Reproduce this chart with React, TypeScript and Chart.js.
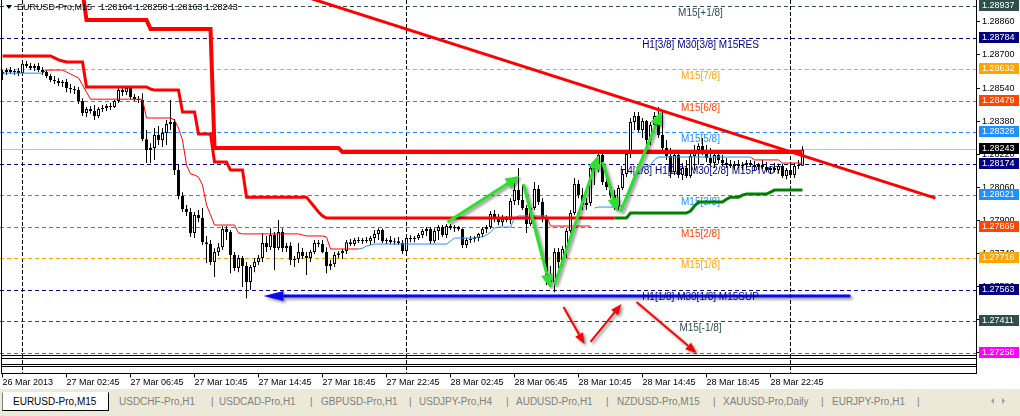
import React, { useEffect, useRef } from 'react';
import { Chart, registerables } from 'chart.js';

Chart.register(...registerables);

const FONT = "'Liberation Sans', Arial, Helvetica, sans-serif";

const symbol = 'EURUSD-Pro,M15';

// 15-minute bars, oldest first (bar 0 = 26 Mar 22:45)
const opens = [
  1.28608, 1.28617, 1.28627, 1.28617, 1.28622, 1.28612, 1.28657, 1.28647, 1.28637, 1.28647,
  1.28627, 1.28617, 1.28598, 1.28579, 1.28574, 1.28564, 1.28569, 1.2854, 1.28535, 1.2853,
  1.28477, 1.28419, 1.28439, 1.28429, 1.28405, 1.28439, 1.28443, 1.28453, 1.28448, 1.28477,
  1.2853, 1.2852, 1.2854, 1.28496, 1.28486, 1.28482, 1.28292, 1.2824, 1.2825, 1.28313,
  1.28288, 1.28322, 1.28366, 1.28375, 1.28143, 1.28017, 1.27954, 1.2794, 1.27838, 1.27926,
  1.27911, 1.27794, 1.27785, 1.27698, 1.27746, 1.2777, 1.27858, 1.27843, 1.27732, 1.27669,
  1.27717, 1.27679, 1.27601, 1.27674, 1.27698, 1.27717, 1.2779, 1.2777, 1.27829, 1.27766,
  1.27843, 1.27766, 1.27775, 1.27708, 1.27712, 1.27746, 1.27727, 1.27717, 1.27746, 1.2779,
  1.27785, 1.27746, 1.27679, 1.27688, 1.27732, 1.27741, 1.27751, 1.27794, 1.27785, 1.27804,
  1.27799, 1.27804, 1.27799, 1.27814, 1.27833, 1.27853, 1.27799, 1.27804, 1.27794, 1.27799,
  1.2779, 1.27751, 1.27814, 1.27809, 1.27814, 1.27829, 1.27848, 1.27858, 1.27799, 1.27848,
  1.27867, 1.27829, 1.27872, 1.27862, 1.27867, 1.27858, 1.2778, 1.27804, 1.27809, 1.27814,
  1.27833, 1.27858, 1.27867, 1.2793, 1.27911, 1.27891, 1.27906, 1.27901, 1.27993, 1.28046,
  1.27998, 1.27959, 1.27882, 1.27959, 1.28051, 1.27988, 1.27906, 1.27611, 1.27601, 1.27746,
  1.27698, 1.27761, 1.27848, 1.27935, 1.28075, 1.28022, 1.27974, 1.27983, 1.28153, 1.28172,
  1.28216, 1.28085, 1.28061, 1.28022, 1.27964, 1.28056, 1.28124, 1.28221, 1.28375, 1.28405,
  1.28337, 1.2838, 1.28288, 1.28361, 1.28405, 1.28313, 1.2825, 1.28211, 1.28133, 1.28216,
  1.28119, 1.28153, 1.28114, 1.28211, 1.2824, 1.28259, 1.2823, 1.28201, 1.28177, 1.28216,
  1.28192, 1.28177, 1.28168, 1.28163, 1.28173, 1.28163, 1.28168, 1.28177, 1.28168, 1.28158,
  1.28168, 1.28158, 1.28143, 1.28153, 1.28143, 1.28163, 1.28114, 1.28143, 1.28119, 1.28163,
  1.28164,
];

const highs = [
  1.28627, 1.28637, 1.28642, 1.28632, 1.28637, 1.28666, 1.28671, 1.28661, 1.28657, 1.28661,
  1.28642, 1.28627, 1.28608, 1.28598, 1.28589, 1.28579, 1.28584, 1.2856, 1.2855, 1.28545,
  1.28491, 1.28448, 1.28453, 1.28458, 1.28448, 1.28458, 1.28463, 1.28467, 1.28482, 1.2854,
  1.2855, 1.2855, 1.28545, 1.28511, 1.28501, 1.28515, 1.28337, 1.28273, 1.28346, 1.28356,
  1.28346, 1.28385, 1.28482, 1.2839, 1.28168, 1.28036, 1.27974, 1.27959, 1.2794, 1.2795,
  1.27959, 1.27824, 1.27804, 1.27765, 1.2779, 1.27872, 1.27872, 1.27853, 1.27746, 1.27732,
  1.27727, 1.27698, 1.27684, 1.27717, 1.27732, 1.27838, 1.27824, 1.27862, 1.27843, 1.27901,
  1.27862, 1.2779, 1.27794, 1.27727, 1.2779, 1.27766, 1.27746, 1.27756, 1.27804, 1.27804,
  1.27804, 1.2777, 1.27708, 1.27746, 1.27751, 1.27761, 1.27804, 1.27809, 1.27814, 1.27819,
  1.27814, 1.27819, 1.27824, 1.27853, 1.27862, 1.27862, 1.27814, 1.27824, 1.27814, 1.27819,
  1.27804, 1.27829, 1.27829, 1.27824, 1.27838, 1.27858, 1.27867, 1.27867, 1.27862, 1.27877,
  1.27877, 1.27882, 1.27882, 1.27877, 1.27872, 1.27862, 1.27814, 1.27824, 1.27824, 1.27838,
  1.27867, 1.27877, 1.27945, 1.2795, 1.2793, 1.27926, 1.27921, 1.28007, 1.28085, 1.28153,
  1.28071, 1.27974, 1.27969, 1.28085, 1.28071, 1.28007, 1.27926, 1.27679, 1.27765, 1.27766,
  1.27775, 1.27862, 1.2795, 1.28104, 1.28095, 1.28056, 1.28007, 1.28168, 1.28192, 1.2824,
  1.2823, 1.28114, 1.28076, 1.28046, 1.28071, 1.28143, 1.2824, 1.28395, 1.28424, 1.28424,
  1.28395, 1.28385, 1.28375, 1.28424, 1.28448, 1.28424, 1.28288, 1.2825, 1.2824, 1.2823,
  1.28177, 1.28192, 1.2824, 1.28264, 1.28273, 1.28298, 1.28264, 1.2825, 1.2824, 1.2824,
  1.28216, 1.28201, 1.28192, 1.28187, 1.28192, 1.28182, 1.28192, 1.28192, 1.28187, 1.28177,
  1.28192, 1.28182, 1.28163, 1.28177, 1.28173, 1.28173, 1.28153, 1.28163, 1.28177, 1.28192,
  1.28258,
];

const lows = [
  1.28579, 1.28603, 1.28608, 1.28603, 1.28598, 1.28603, 1.28637, 1.28627, 1.28622, 1.28617,
  1.28603, 1.28589, 1.28569, 1.2856, 1.2855, 1.28545, 1.2852, 1.28515, 1.28511, 1.28463,
  1.28405, 1.284, 1.28415, 1.28385, 1.28395, 1.28424, 1.28429, 1.28434, 1.28443, 1.28467,
  1.28501, 1.28506, 1.28486, 1.28477, 1.28467, 1.28283, 1.28177, 1.28177, 1.28192, 1.28264,
  1.28254, 1.28264, 1.28337, 1.28119, 1.28002, 1.2794, 1.27921, 1.27819, 1.27814, 1.27891,
  1.2778, 1.27693, 1.27684, 1.27625, 1.27727, 1.27756, 1.27804, 1.27644, 1.27654, 1.27649,
  1.27577, 1.27523, 1.27562, 1.27649, 1.27684, 1.27698, 1.27746, 1.27756, 1.27659, 1.27756,
  1.27746, 1.27746, 1.27684, 1.27674, 1.27693, 1.27712, 1.27635, 1.27698, 1.27737, 1.2777,
  1.27741, 1.27644, 1.27659, 1.27674, 1.27717, 1.27712, 1.27737, 1.27775, 1.27775, 1.2779,
  1.27785, 1.2779, 1.2778, 1.2779, 1.27804, 1.2779, 1.27785, 1.27785, 1.2778, 1.2778,
  1.27737, 1.27737, 1.27794, 1.27794, 1.27804, 1.27814, 1.27824, 1.27785, 1.2779, 1.27804,
  1.27819, 1.27814, 1.27853, 1.27843, 1.27848, 1.27766, 1.27766, 1.2779, 1.27794, 1.27799,
  1.27819, 1.27838, 1.27858, 1.27891, 1.27877, 1.27872, 1.27891, 1.27882, 1.27974, 1.27974,
  1.2795, 1.27838, 1.27872, 1.2795, 1.27974, 1.27891, 1.27587, 1.27577, 1.27552, 1.27669,
  1.27679, 1.27717, 1.27838, 1.27926, 1.28007, 1.2795, 1.2795, 1.27969, 1.28071, 1.28133,
  1.28071, 1.28046, 1.28007, 1.2795, 1.2795, 1.28046, 1.28109, 1.28201, 1.28337, 1.28327,
  1.28298, 1.28264, 1.28264, 1.28346, 1.28298, 1.2823, 1.28192, 1.28104, 1.28119, 1.28104,
  1.28095, 1.28104, 1.28104, 1.28143, 1.28168, 1.28216, 1.28182, 1.28163, 1.28153, 1.28173,
  1.28163, 1.28153, 1.28153, 1.28143, 1.28153, 1.28143, 1.28153, 1.28158, 1.28143, 1.28143,
  1.28148, 1.28133, 1.28124, 1.28133, 1.28128, 1.28104, 1.28099, 1.28109, 1.28104, 1.28148,
  1.28163,
];

const closes = [
  1.28617, 1.28627, 1.28617, 1.28622, 1.28612, 1.28657, 1.28647, 1.28637, 1.28647, 1.28627,
  1.28617, 1.28598, 1.28579, 1.28574, 1.28564, 1.28569, 1.2854, 1.28535, 1.2853, 1.28477,
  1.28419, 1.28439, 1.28429, 1.28405, 1.28439, 1.28443, 1.28453, 1.28448, 1.28477, 1.2853,
  1.2852, 1.2854, 1.28496, 1.28486, 1.28482, 1.28292, 1.2824, 1.2825, 1.28313, 1.28288,
  1.28322, 1.28366, 1.28375, 1.28143, 1.28017, 1.27954, 1.2794, 1.27838, 1.27926, 1.27911,
  1.27794, 1.27785, 1.27698, 1.27746, 1.2777, 1.27858, 1.27843, 1.27732, 1.27669, 1.27717,
  1.27679, 1.27601, 1.27674, 1.27698, 1.27717, 1.2779, 1.2777, 1.27829, 1.27766, 1.27843,
  1.27766, 1.27775, 1.27708, 1.27712, 1.27746, 1.27727, 1.27717, 1.27746, 1.2779, 1.27785,
  1.27746, 1.27679, 1.27688, 1.27732, 1.27741, 1.27751, 1.27794, 1.27785, 1.27804, 1.27799,
  1.27804, 1.27799, 1.27814, 1.27833, 1.27853, 1.27799, 1.27804, 1.27794, 1.27799, 1.2779,
  1.27751, 1.27814, 1.27809, 1.27814, 1.27829, 1.27848, 1.27858, 1.27799, 1.27848, 1.27867,
  1.27829, 1.27872, 1.27862, 1.27867, 1.27858, 1.2778, 1.27804, 1.27809, 1.27814, 1.27833,
  1.27858, 1.27867, 1.2793, 1.27911, 1.27891, 1.27906, 1.27901, 1.27993, 1.28046, 1.27998,
  1.27959, 1.27882, 1.27959, 1.28051, 1.27988, 1.27906, 1.27611, 1.27601, 1.27746, 1.27698,
  1.27761, 1.27848, 1.27935, 1.28075, 1.28022, 1.27974, 1.27983, 1.28153, 1.28172, 1.28216,
  1.28085, 1.28061, 1.28022, 1.27964, 1.28056, 1.28124, 1.28221, 1.28375, 1.28405, 1.28337,
  1.2838, 1.28288, 1.28361, 1.28405, 1.28313, 1.2825, 1.28211, 1.28133, 1.28216, 1.28119,
  1.28153, 1.28114, 1.28211, 1.2824, 1.28259, 1.2823, 1.28201, 1.28177, 1.28216, 1.28192,
  1.28177, 1.28168, 1.28163, 1.28173, 1.28163, 1.28168, 1.28177, 1.28168, 1.28158, 1.28168,
  1.28158, 1.28143, 1.28153, 1.28143, 1.28163, 1.28114, 1.28143, 1.28119, 1.28163, 1.28163,
  1.28243,
];

// time axis
const xTickBars = [0, 16, 32, 48, 64, 80, 96, 112, 128, 144, 160, 176, 192];
const xTickLabels = [
  '26 Mar 2013', '27 Mar 02:45', '27 Mar 06:45', '27 Mar 10:45', '27 Mar 14:45',
  '27 Mar 18:45', '27 Mar 22:45', '28 Mar 02:45', '28 Mar 06:45', '28 Mar 10:45',
  '28 Mar 14:45', '28 Mar 18:45', '28 Mar 22:45',
];
const dayStartBars = [5, 101, 197];

// price axis
const yTickValues = [1.2886, 1.287, 1.2854, 1.2838, 1.2822, 1.2806, 1.279, 1.2774, 1.2758, 1.2742, 1.2726];

// Murrey math levels
const murreyPrices = [1.28937, 1.28784, 1.28632, 1.28479, 1.28326, 1.28174, 1.28021, 1.27869, 1.27716, 1.27563, 1.27411, 1.27258];
const murreyNames = [
  'M15[+1/8]', 'H1[3/8] M30[3/8] M15RES', 'M15[7/8]', 'M15[6/8]', 'M15[5/8]',
  'H4[1/8] H1[2/8] M30[2/8] M15PIVOT', 'M15[3/8]', 'M15[2/8]', 'M15[1/8]',
  'H1[1/8] M30[1/8] M15SUP', 'M15[-1/8]', 'M15[-2/8]',
];
const murreyColors = ['#2F4F4F', '#000080', '#FFA500', '#FF4500', '#1E90FF', '#000080', '#1E90FF', '#FF4500', '#FFA500', '#000080', '#2F4F4F', '#FF00FF'];
const murreyLabelBar = 174.5;

// trailing stop lines: vertices [bar, price]
const upperStop: [number, number][] = [
  [0, 1.2901], [20, 1.2901], [21, 1.28869], [36, 1.28869], [37, 1.28826], [52, 1.28826],
  [53, 1.2825], [84, 1.2825], [85, 1.2823], [200, 1.2823],
];
const slowStopDown: [number, number][] = [
  [0, 1.28695], [12, 1.28695], [13, 1.28686], [14, 1.28676], [15, 1.28671], [16, 1.28666], [20, 1.28666],
  [21, 1.28545], [36, 1.28545], [37, 1.28535], [38, 1.2853], [44, 1.2853], [45, 1.28424], [48, 1.28424],
  [49, 1.28318], [52, 1.28318], [53, 1.28182], [56, 1.28182], [57, 1.28143], [60, 1.28143],
  [61, 1.28012], [76, 1.28012], [77, 1.27988], [78, 1.27964], [79, 1.2794], [80, 1.27921],
  [81, 1.27911], [153, 1.27911],
];
const slowStopUp: [number, number][] = [
  [153, 1.27911], [156, 1.27911], [157, 1.27935], [171, 1.27935], [172, 1.27945], [173, 1.27969],
  [174, 1.27988], [180, 1.27988], [181, 1.28002], [182, 1.28012], [184, 1.28012], [185, 1.28022],
  [186, 1.28027], [191, 1.28027], [192, 1.28036], [193, 1.28046], [200, 1.28046],
];
const fastStopUp: [number, number][][] = [
  [[0, 1.28612], [10, 1.28612]],
  [[89, 1.27761], [90, 1.27765], [91, 1.27775], [92, 1.2778], [93, 1.27785], [111, 1.27785], [112, 1.27799],
   [113, 1.27814], [118, 1.27814], [119, 1.27819], [120, 1.27819], [121, 1.27829], [122, 1.27843],
   [123, 1.27862], [124, 1.27867], [127, 1.27867], [128, 1.27911], [129, 1.27921], [136, 1.27921]],
  [[148, 1.27959], [149, 1.27964], [154, 1.27964], [155, 1.27974], [156, 1.27998], [157, 1.28046],
   [158, 1.28095], [159, 1.28133], [160, 1.28153], [161, 1.28163], [162, 1.28168], [163, 1.28192],
   [164, 1.28206], [187, 1.28206]],
];
const fastStopDown: [number, number][][] = [
  [[10, 1.28612], [11, 1.28627], [15, 1.28627], [16, 1.28617], [17, 1.28608], [18, 1.28598], [19, 1.28589],
   [20, 1.28555], [21, 1.2852], [22, 1.28486], [35, 1.28486], [36, 1.28395], [42, 1.28395], [43, 1.28385],
   [44, 1.28346], [45, 1.28288], [46, 1.28168], [47, 1.28124], [48, 1.28119], [49, 1.28109], [50, 1.28071],
   [51, 1.27974], [52, 1.27926], [53, 1.27877], [58, 1.27877], [59, 1.27838], [60, 1.27834], [74, 1.27834],
   [75, 1.27829], [76, 1.27824], [80, 1.27824], [81, 1.27819], [82, 1.27761], [89, 1.27761]],
  [[136, 1.27921], [137, 1.27872], [147, 1.27872]],
  [[187, 1.28206], [188, 1.28192], [194, 1.28192], [195, 1.28177], [200, 1.28177]],
];

// drawn objects: [bar, price] start and end
const trendLine: [number, number][] = [[70, 1.29017], [233.25, 1.28007]];
const supportArrow: [number, number][] = [[212, 1.27533], [65.25, 1.27533]];
const swingArrows: [number, number, number, number][] = [
  [111.25, 1.27891, 129.25, 1.28114],
  [130.25, 1.28075, 137, 1.27572],
  [138, 1.27587, 149, 1.28216],
  [150, 1.28182, 153.75, 1.2794],
  [154.5, 1.2794, 164.75, 1.28429],
];
const projectionArrows: [number, number, number, number][] = [
  [140.25, 1.2748, 145.5, 1.27301],
  [147, 1.27311, 154.75, 1.27495],
  [158.5, 1.27504, 173.5, 1.27258],
];

const tabNames = [
  'EURUSD-Pro,M15', 'USDCHF-Pro,H1', 'USDCAD-Pro,H1', 'GBPUSD-Pro,H1', 'USDJPY-Pro,H4',
  'AUDUSD-Pro,H1', 'NZDUSD-Pro,M15', 'XAUUSD-Pro,Daily', 'EURJPY-Pro,H1',
];
const tabLefts = [119, 219, 321, 419, 516, 617, 723, 832];
const sepLefts = [211, 310, 409, 506, 606, 713, 821, 917];

function drawArrow(
  ctx: CanvasRenderingContext2D, x1: number, y1: number, x2: number, y2: number,
  color: string, width: number, head: number, half: number,
) {
  const a = Math.atan2(y2 - y1, x2 - x1);
  const bx = x2 - head * Math.cos(a);
  const by = y2 - head * Math.sin(a);
  ctx.strokeStyle = color;
  ctx.fillStyle = color;
  ctx.lineWidth = width;
  ctx.lineCap = 'butt';
  ctx.beginPath();
  ctx.moveTo(x1, y1);
  ctx.lineTo(bx, by);
  ctx.stroke();
  ctx.beginPath();
  ctx.moveTo(x2, y2);
  ctx.lineTo(bx + half * Math.sin(a), by - half * Math.cos(a));
  ctx.lineTo(bx - half * Math.sin(a), by + half * Math.cos(a));
  ctx.closePath();
  ctx.fill();
}

const AXIS_BOTTOM = 373.5;

const terminalDecor = {
  id: 'terminalDecor',
  beforeDatasetsDraw(chart: any) {
    const { ctx, chartArea: a } = chart;
    const xs = chart.scales.x;
    const ys = chart.scales.y;
    const last = closes.length - 1;

    // day separators
    ctx.save();
    ctx.strokeStyle = '#000';
    ctx.lineWidth = 1;
    ctx.setLineDash([4, 2]);
    dayStartBars.forEach((b) => {
      const px = Math.floor(xs.getPixelForValue(b)) + 0.5;
      ctx.beginPath();
      ctx.moveTo(px, 0);
      ctx.lineTo(px, AXIS_BOTTOM);
      ctx.stroke();
    });
    ctx.restore();

    ctx.save();
    ctx.beginPath();
    ctx.rect(a.left, a.top, a.right - a.left, a.bottom - a.top);
    ctx.clip();

    // bid line
    const by = Math.round(ys.getPixelForValue(closes[last])) + 0.5;
    ctx.strokeStyle = '#C0C0C0';
    ctx.lineWidth = 1;
    ctx.beginPath();
    ctx.moveTo(a.left, by);
    ctx.lineTo(a.right, by);
    ctx.stroke();

    // Murrey levels
    ctx.setLineDash([4, 3]);
    murreyPrices.forEach((p, k) => {
      const yy = Math.round(ys.getPixelForValue(p)) + 0.5;
      ctx.strokeStyle = murreyColors[k];
      ctx.beginPath();
      ctx.moveTo(a.left, yy);
      ctx.lineTo(a.right, yy);
      ctx.stroke();
    });
    ctx.setLineDash([]);

    // support arrow
    ctx.shadowColor = 'rgba(0,0,0,0.45)';
    ctx.shadowBlur = 3;
    ctx.shadowOffsetX = 2;
    ctx.shadowOffsetY = 2;
    drawArrow(
      ctx,
      xs.getPixelForValue(supportArrow[0][0]), ys.getPixelForValue(supportArrow[0][1]),
      xs.getPixelForValue(supportArrow[1][0]), ys.getPixelForValue(supportArrow[1][1]),
      '#0A0AF0', 3, 20, 5,
    );
    ctx.shadowColor = 'transparent';

    // level labels
    ctx.font = `10px ${FONT}`;
    ctx.textAlign = 'center';
    ctx.textBaseline = 'alphabetic';
    const lx = xs.getPixelForValue(murreyLabelBar);
    murreyPrices.forEach((p, k) => {
      const yy = Math.round(ys.getPixelForValue(p));
      ctx.fillStyle = murreyColors[k];
      ctx.fillText(murreyNames[k], lx, yy + 10);
    });
    ctx.restore();
  },
  afterDatasetsDraw(chart: any) {
    const { ctx, chartArea: a } = chart;
    const xs = chart.scales.x;
    const ys = chart.scales.y;
    const last = closes.length - 1;

    ctx.save();
    ctx.beginPath();
    ctx.rect(a.left, a.top, a.right - a.left, a.bottom - a.top);
    ctx.clip();

    // trend line
    ctx.strokeStyle = '#FF0000';
    ctx.lineWidth = 3;
    ctx.beginPath();
    ctx.moveTo(xs.getPixelForValue(trendLine[0][0]), ys.getPixelForValue(trendLine[0][1]));
    ctx.lineTo(xs.getPixelForValue(trendLine[1][0]), ys.getPixelForValue(trendLine[1][1]));
    ctx.stroke();

    ctx.shadowColor = 'rgba(0,0,0,0.45)';
    ctx.shadowBlur = 3;
    ctx.shadowOffsetX = 2;
    ctx.shadowOffsetY = 2;
    swingArrows.forEach(([b1, p1, b2, p2]) => {
      drawArrow(ctx, xs.getPixelForValue(b1), ys.getPixelForValue(p1),
        xs.getPixelForValue(b2), ys.getPixelForValue(p2), '#2EE02E', 3, 14, 6);
    });
    projectionArrows.forEach(([b1, p1, b2, p2]) => {
      drawArrow(ctx, xs.getPixelForValue(b1), ys.getPixelForValue(p1),
        xs.getPixelForValue(b2), ys.getPixelForValue(p2), '#FF0000', 2, 11, 4.5);
    });
    ctx.restore();

    // header
    ctx.save();
    ctx.fillStyle = '#000';
    ctx.beginPath();
    ctx.moveTo(6, 5);
    ctx.lineTo(12, 5);
    ctx.lineTo(9, 9);
    ctx.closePath();
    ctx.fill();
    ctx.font = `9px ${FONT}`;
    ctx.textAlign = 'left';
    ctx.textBaseline = 'alphabetic';
    ctx.fillText(symbol, 17, 10);
    ctx.fillText([opens[last], highs[last], lows[last], closes[last]].map((v) => v.toFixed(5)).join(' '), 100, 10);
    ctx.restore();
  },
  afterDraw(chart: any) {
    const { ctx, chartArea: a } = chart;
    const xs = chart.scales.x;
    const ys = chart.scales.y;
    const last = closes.length - 1;
    const right = Math.round(a.right) + 0.5;

    ctx.save();
    ctx.strokeStyle = '#000';
    ctx.lineWidth = 1;
    ctx.setLineDash([]);
    ctx.beginPath();
    // window frame
    ctx.moveTo(1.5, 0);
    ctx.lineTo(1.5, AXIS_BOTTOM);
    ctx.moveTo(1.5, 355.5);
    ctx.lineTo(right, 355.5);
    ctx.moveTo(right, 0);
    ctx.lineTo(right, AXIS_BOTTOM);
    ctx.stroke();
    ctx.strokeRect(1.5, 358.5, right - 1.5, 6);
    ctx.strokeRect(1.5, 366.5, right - 1.5, 7);
    // time ticks
    ctx.beginPath();
    xTickBars.forEach((b) => {
      const px = Math.floor(xs.getPixelForValue(b)) + 0.5;
      ctx.moveTo(px, AXIS_BOTTOM);
      ctx.lineTo(px, AXIS_BOTTOM + 4);
    });
    ctx.stroke();

    // price tags
    ctx.font = `9px ${FONT}`;
    ctx.textAlign = 'left';
    ctx.textBaseline = 'middle';
    const tags = murreyPrices.map((p, k) => ({ p, c: murreyColors[k] }));
    tags.push({ p: closes[last], c: '#000000' });
    tags.forEach(({ p, c }) => {
      const yy = Math.round(ys.getPixelForValue(p));
      ctx.fillStyle = c;
      ctx.fillRect(979, yy - 6, 40, 11);
      ctx.fillStyle = '#fff';
      ctx.fillText(p.toFixed(5), 982, yy);
    });
    ctx.restore();
  },
};

export default function App() {
  const ref = useRef<HTMLCanvasElement>(null);

  useEffect(() => {
    const canvas = ref.current;
    if (!canvas) return;
    const bars = closes.map((_, i) => i);
    const wicks = bars.map((i) => ({ x: i, y: [lows[i], highs[i]] }));
    const bodies = bars.map((i) => ({ x: i, y: [opens[i], closes[i]] }));
    const bodyFill = bars.map((i) => (closes[i] > opens[i] ? '#FFFFFF' : '#000000'));

    const lineSet = (pts: [number, number][], color: string, width: number, order: number) => ({
      type: 'line' as const,
      data: pts.map(([x, y]) => ({ x, y })),
      borderColor: color,
      borderWidth: width,
      pointRadius: 0,
      fill: false,
      tension: 0,
      order,
    });

    const chart = new Chart(canvas, {
      type: 'bar',
      data: {
        datasets: [
          {
            type: 'bar', data: wicks as any, backgroundColor: '#000', borderWidth: 0,
            barThickness: 1, grouped: false, inflateAmount: 0, order: 20,
          } as any,
          {
            type: 'bar', data: bodies as any, backgroundColor: bodyFill, borderColor: '#000',
            borderWidth: 1, borderSkipped: false, barThickness: 3, grouped: false,
            minBarLength: 1, inflateAmount: 0, order: 19,
          } as any,
          ...fastStopUp.map((p) => lineSet(p, '#1E90FF', 1, 10)),
          ...fastStopDown.map((p) => lineSet(p, '#FF0000', 1, 10)),
          lineSet(slowStopDown, '#FF0000', 3, 6),
          lineSet(slowStopUp, '#008000', 3, 6),
          lineSet(upperStop, '#FF0000', 4, 5),
        ],
      },
      options: {
        animation: false,
        responsive: false,
        maintainAspectRatio: false,
        devicePixelRatio: 1,
        events: [],
        layout: { padding: 0 },
        plugins: { legend: { display: false }, tooltip: { enabled: false } },
        scales: {
          x: {
            type: 'linear',
            position: 'bottom',
            min: -0.625,
            max: 243.375,
            offset: false,
            afterBuildTicks: (s: any) => { s.ticks = xTickBars.map((v) => ({ value: v })); },
            afterFit: (s: any) => {
              s.height = 34;
              s.paddingLeft = 0; s.paddingRight = 0; s.paddingTop = 0; s.paddingBottom = 0;
            },
            ticks: {
              autoSkip: false, maxRotation: 0, minRotation: 0, align: 'start', padding: 22,
              color: '#000', font: { family: FONT, size: 9 },
              callback: (_v: any, idx: number) => xTickLabels[idx] ?? '',
            },
            grid: { display: false, drawTicks: false },
            border: { display: false },
          },
          y: {
            type: 'linear',
            position: 'right',
            min: 1.27248,
            max: 1.28966,
            afterBuildTicks: (s: any) => { s.ticks = yTickValues.map((v) => ({ value: v })); },
            afterFit: (s: any) => {
              s.width = 44;
              s.paddingLeft = 0; s.paddingRight = 0; s.paddingTop = 0; s.paddingBottom = 0;
            },
            ticks: {
              autoSkip: false, padding: 2, color: '#000', font: { family: FONT, size: 9 },
              callback: (v: any) => Number(v).toFixed(5),
            },
            grid: { drawOnChartArea: false, drawTicks: true, tickLength: 4, color: '#000', lineWidth: 1 },
            border: { display: false },
          },
        },
      } as any,
      plugins: [terminalDecor],
    });
    return () => chart.destroy();
  }, []);

  return (
    <div style={{ width: 1020, height: 416, background: '#fff', overflow: 'hidden', position: 'relative' }}>
      <style>{'body{margin:0;background:#fff}'}</style>
      <canvas ref={ref} width={1020} height={389} style={{ display: 'block', width: 1020, height: 389 }} />
      <div style={{ position: 'relative', height: 27, background: '#ECE9D8', fontFamily: FONT, fontSize: 10 }}>
        <div
          style={{
            position: 'absolute', left: 2, top: 3, width: 105, height: 17, background: '#fff',
            borderTop: '1px solid #fff', borderLeft: '1px solid #808080',
            borderRight: '1px solid #000', borderBottom: '1px solid #000',
            lineHeight: '17px', color: '#000', whiteSpace: 'nowrap',
          }}
        >
          <span style={{ position: 'absolute', left: 10 }}>{tabNames[0]}</span>
        </div>
        {tabNames.slice(1).map((n, k) => (
          <span key={n} style={{ position: 'absolute', left: tabLefts[k], top: 6, lineHeight: '13px', color: '#808080', whiteSpace: 'nowrap' }}>{n}</span>
        ))}
        {sepLefts.map((l) => (
          <span key={l} style={{ position: 'absolute', left: l, top: 6, lineHeight: '13px', color: '#808080' }}>|</span>
        ))}
        <div style={{ position: 'absolute', left: 991, top: 9, width: 0, height: 0, borderTop: '3px solid transparent', borderBottom: '3px solid transparent', borderRight: '3px solid #A0A0A0' }} />
        <div style={{ position: 'absolute', left: 1002, top: 9, width: 0, height: 0, borderTop: '3px solid transparent', borderBottom: '3px solid transparent', borderLeft: '3px solid #A0A0A0' }} />
      </div>
    </div>
  );
}
